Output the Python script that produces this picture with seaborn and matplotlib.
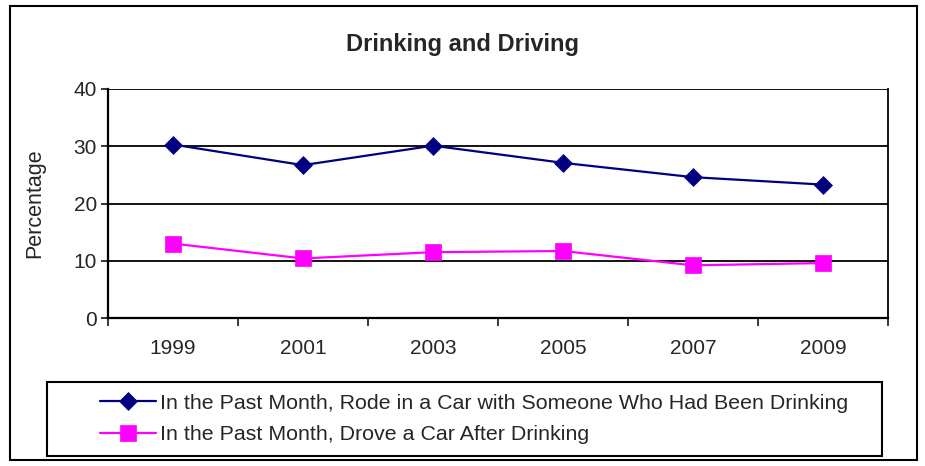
import numpy as np
import pandas as pd
import seaborn as sns
from matplotlib import pyplot as plt
from matplotlib.patches import Rectangle

years = ["1999", "2001", "2003", "2005", "2007", "2009"]
rode_with_drinker = [30.3, 26.7, 30.1, 27.1, 24.6, 23.3]
drove_after_drinking = [13.0, 10.4, 11.5, 11.7, 9.2, 9.6]

label_rode = "In the Past Month, Rode in a Car with Someone Who Had Been Drinking"
label_drove = "In the Past Month, Drove a Car After Drinking"

df = pd.DataFrame({
    "Year": years * 2,
    "Percentage": rode_with_drinker + drove_after_drinking,
    "Series": [label_rode] * len(years) + [label_drove] * len(years),
})

sns.set_style("white")
plt.rcParams['font.family'] = ['Liberation Sans', 'DejaVu Sans']

fig = plt.figure(figsize=(9.25, 4.66), dpi=100)
ax = fig.add_axes([108 / 925, 1 - 318 / 466, 780 / 925, 229 / 466])

sns.lineplot(data=df, x="Year", y="Percentage", hue="Series", style="Series",
             palette={label_rode: "#000080", label_drove: "#FF00FF"},
             markers={label_rode: "D", label_drove: "s"}, dashes=False,
             linewidth=1.6, legend=False, ax=ax)

for line, ms in zip(ax.lines, [9, 11]):
    line.set_markeredgecolor(line.get_color())
    line.set_markersize(ms)
    line.set_markeredgewidth(0.5)

ax.set_xlim(-0.5, len(years) - 0.5)
ax.set_ylim(0, 40)
ax.set_yticks([0, 10, 20, 30, 40])
ax.set_xticks(range(len(years)))
ax.set_xticklabels(years)
ax.set_xticks(np.arange(-0.5, len(years), 1.0), minor=True)
ax.tick_params(axis="x", which="major", length=0, pad=15, labelsize=15)
ax.tick_params(axis="x", which="minor", length=6, width=1.3, direction="out", bottom=True)
ax.tick_params(axis="y", length=5, width=1.3, direction="out", left=True, labelsize=15, pad=3)
ax.yaxis.grid(True, color="black", linewidth=1.3)
ax.set_axisbelow(True)
for side in ["left", "bottom", "right"]:
    ax.spines[side].set_visible(True)
    ax.spines[side].set_color("black")
ax.spines["left"].set_linewidth(1.6)
ax.spines["bottom"].set_linewidth(1.6)
ax.spines["right"].set_linewidth(1.3)
ax.spines["top"].set_visible(False)
ax.set_xlabel("")
ax.set_ylabel("Percentage", fontsize=15.5, labelpad=20)

fig.text(463 / 925, 1 - 45 / 466, "Drinking and Driving", ha="center", va="center",
         fontsize=17, fontweight="bold")

# outer chart border and legend box
fig.patches.append(Rectangle((10 / 925, 6 / 466), 907 / 925, 454 / 466, transform=fig.transFigure,
                             fill=False, edgecolor="black", linewidth=1.5))
fig.patches.append(Rectangle((47 / 925, 10 / 466), 835 / 925, 74 / 466, transform=fig.transFigure,
                             fill=False, edgecolor="black", linewidth=1.5))

fig.legend(handles=ax.lines[:2], labels=[label_rode, label_drove], loc="center left",
           bbox_to_anchor=(100 / 925, 1 - 419 / 466), frameon=False, fontsize=15.4,
           handlelength=2.6, handletextpad=0.2, labelspacing=0.6, borderpad=0, borderaxespad=0)

fig.savefig("out.png", dpi=100)
